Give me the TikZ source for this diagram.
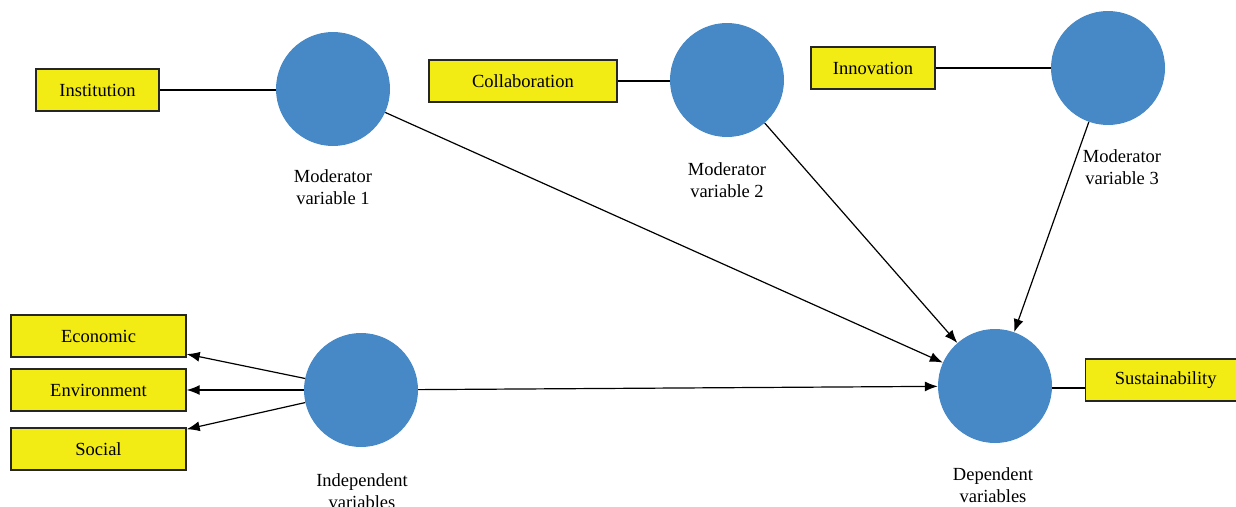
\documentclass[tikz,border=0pt]{standalone}
\usepackage{fontspec}
\setmainfont{Liberation Serif}
\usetikzlibrary{arrows.meta}
\definecolor{boxyellow}{RGB}{242,235,20}
\definecolor{circblue}{RGB}{71,137,199}
\begin{document}
\begin{tikzpicture}[x=1pt,y=-1pt,
  font=\fontsize{18.5}{22}\selectfont,
  ybox/.style={draw=black!85, line width=1.4pt, fill=boxyellow, minimum height=42pt, inner sep=0pt, anchor=center},
  var/.style={circle, fill=circblue, minimum size=114pt, inner sep=0pt},
  lbl/.style={align=center, inner sep=0pt},
  link/.style={line width=1.2pt},
  arr/.style={line width=1.2pt, -{Latex[length=13pt,width=10pt]}}]
\useasboundingbox (0,0) rectangle (1236,506);
% circles
\node[var] (m1) at (333,89) {};
\node[var] (m2) at (727,80) {};
\node[var] (m3) at (1108,68) {};
\node[var] (ind) at (361,390) {};
\node[var] (dep) at (995,386) {};
% boxes
\node[ybox, minimum width=123pt] (inst) at (97.5,90) {Institution};
\node[ybox, minimum width=188pt] (coll) at (523,81) {Collaboration};
\node[ybox, minimum width=124pt] (inno) at (873,68) {Innovation};
\node[ybox, minimum width=175pt] (econ) at (98.5,336) {Economic};
\node[ybox, minimum width=175pt] (envi) at (98.5,390) {Environment};
\node[ybox, minimum width=175pt] (soci) at (98.5,449) {Social};
\node[ybox, minimum width=155pt, anchor=west] (sust) at (1085,380) {\hspace*{5pt}Sustainability};
% labels
\node[lbl] (l1) at (333,187) {Moderator\\variable 1};
\node[lbl] (l2) at (727,180) {Moderator\\variable 2};
\node[lbl] (l3) at (1122,167) {Moderator\\variable 3};
\node[lbl] (l4) at (362,491) {Independent\\variables};
\node[lbl] (l5) at (993,485) {Dependent\\variables};
% connectors
\draw[link] (inst.east) -- (inst.east -| m1.west);
\draw[link] (coll.east) -- (coll.east -| m2.west);
\draw[link] (inno.east) -- (inno.east -| m3.west);
\coordinate (dj) at ([yshift=-2pt]dep.east);
\draw[link] (dj) -- (dj -| sust.west);
\draw[arr] (m1) -- (dep);
\draw[arr] (m2) -- (dep);
\draw[arr] (m3) -- (dep);
\draw[arr] (ind) -- (dep);
\draw[arr] (ind) -- (econ);
\draw[arr] (ind) -- (envi);
\draw[arr] (ind) -- (soci);
\end{tikzpicture}
\end{document}
